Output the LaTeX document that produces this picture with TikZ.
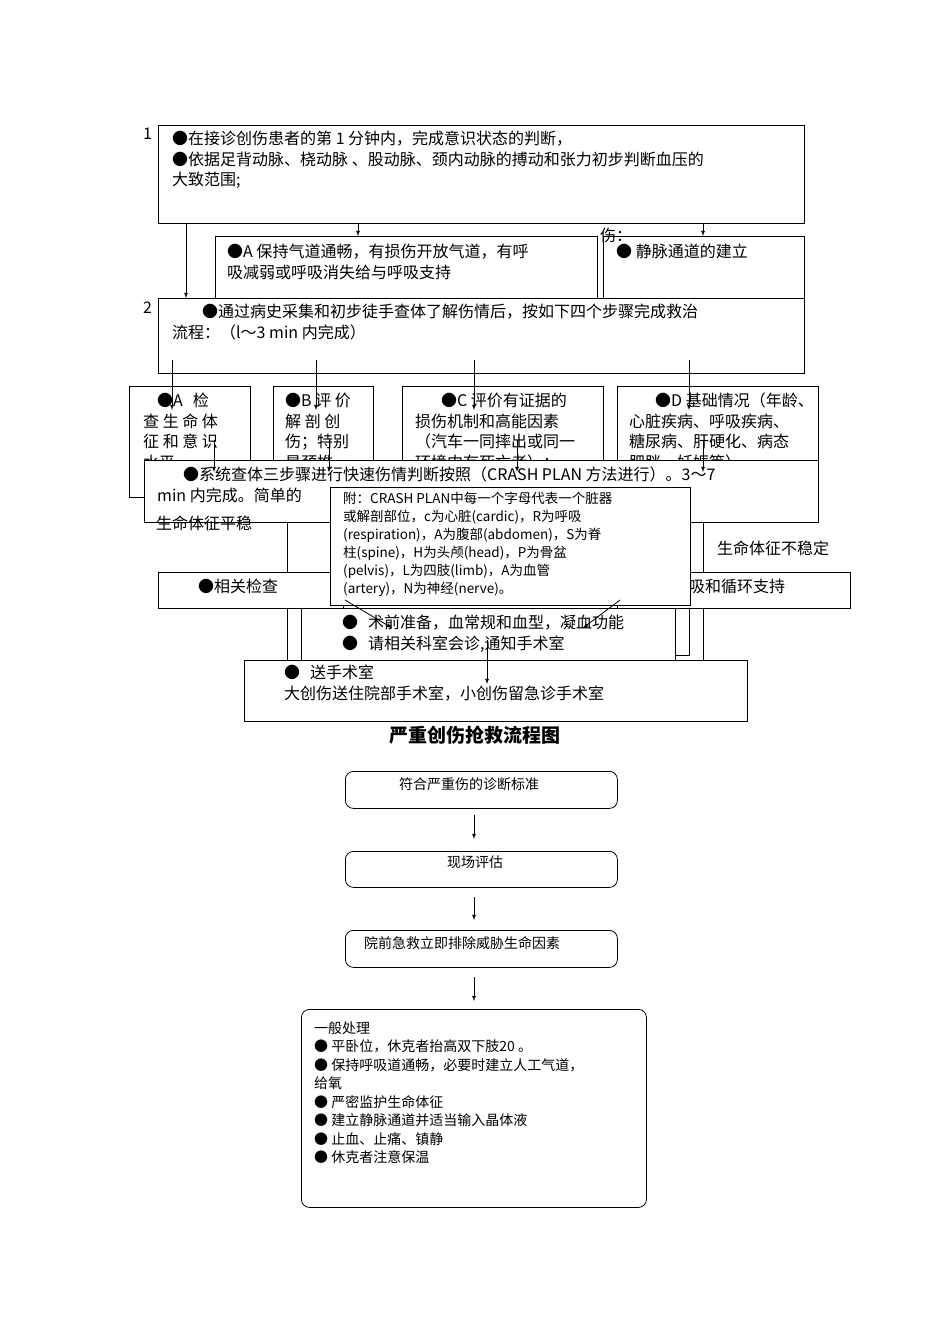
\documentclass[tikz,border=0pt]{standalone}
\usepackage{fontspec}
\setmainfont{Noto Sans CJK SC}
\newfontfamily\monocjk{Noto Sans CJK SC}
\usetikzlibrary{arrows}
\tikzset{
  box/.style={draw,thick,fill=white,anchor=north west,inner sep=0pt},
  rbox/.style={box,rounded corners=8pt},
  txt/.style={anchor=north west,inner sep=0pt,align=left,font=\fontsize{16}{20.5}\selectfont},
  small/.style={txt,font=\fontsize{14}{18.5}\selectfont},
  arr/.style={->,>=latex,thick},
}
\newcommand\bx[6][box]{\node[#1,minimum width=#5pt,minimum height=#6pt] (#2) at (#3,#4) {};}
\begin{document}
\begin{tikzpicture}[x=1pt,y=-1pt]
\useasboundingbox (0,0) rectangle (950,1344);
% step 1
\bx{one}{158}{125}{646}{98}
\node[txt] (n1) at (143,128) {1};
\node[txt] (t1) at (172,131) {●在接诊创伤患者的第 1 分钟内，完成意识状态的判断，\\●依据足背动脉、桡动脉 、股动脉、颈内动脉的搏动和张力初步判断血压的\\大致范围;};
\bx{air}{215}{236}{382}{62}
\node[txt] (tair) at (227,244) {●A 保持气道通畅，有损伤开放气道，有呼\\吸减弱或呼吸消失给与呼吸支持};
\bx{iv}{603}{236}{201}{62}
\node[txt] (tiv) at (600,228) {伤：};
\node[txt] (tiv2) at (616,244) {● 静脉通道的建立};
\coordinate (o1) at (186,223); \coordinate (o2) at (186,298);
\coordinate (o3) at (358,223); \coordinate (o4) at (358,236);
\coordinate (o5) at (703,223); \coordinate (o6) at (703,236);
\draw[arr] (o1) -- (o2);
\draw[arr] (o3) -- (o4);
\draw[arr] (o5) -- (o6);
% step 2
\bx{two}{158}{298}{646}{75}
\node[txt] (n2) at (143,302) {2};
\node[txt] (t2) at (172,304) {\hspace{30pt}●通过病史采集和初步徒手查体了解伤情后，按如下四个步骤完成救治\\流程：（l～3 min 内完成）};
% four steps
\bx{sa}{129}{386}{121}{111}
\node[txt] (tsa) at (143,393) {\hspace{14pt}●A\hspace{10pt}检\\查 生 命 体\\征 和 意 识\\水平};
\bx{sb}{273}{386}{100}{90}
\node[txt] (tsb) at (285,393) {●B 评 价\\解 剖 创\\伤；特别\\是颈椎};
\bx{sc}{402}{386}{201}{90}
\node[txt] (tsc) at (415,393) {\hspace{26pt}●C 评价有证据的\\损伤机制和高能因素\\（汽车一同摔出或同一\\环境内有死亡者）；};
\bx{sd}{617}{386}{201}{90}
\node[txt] (tsd) at (629,393) {\hspace{26pt}●D 基础情况（年龄、\\心脏疾病、呼吸疾病、\\糖尿病、肝硬化、病态\\肥胖、妊娠等）。};
% step 3
\bx{three}{144}{460}{674}{62}
\node[txt] (t3) at (157,467) {\hspace{26pt}●系统查体三步骤进行快速伤情判断按照（CRASH PLAN 方法进行）。3～7\\min 内完成。简单的};
\node[txt] (stable) at (156,516) {生命体征平稳};
\node[txt] (unstable) at (717,541) {生命体征不稳定};
\foreach \x in {172,316,474,689}{
  \coordinate (a\x) at (\x,360); \coordinate (b\x) at (\x,410);
  \draw[arr] (a\x) -- (b\x);}
\foreach \x in {214,329,517,703}{
  \coordinate (c\x) at (\x,440); \coordinate (d\x) at (\x,472);
  \draw[arr] (c\x) -- (d\x);}
% vertical side lines
\coordinate (v1) at (287,522); \coordinate (v2) at (287,660);
\coordinate (v3) at (703,522); \coordinate (v4) at (703,660);
\coordinate (v5) at (689,487); \coordinate (v6) at (689,655); \coordinate (v7) at (675,655);
\draw[thick] (v1) -- (v2);
\draw[thick] (v3) -- (v4);
\draw[thick] (v5) -- (v6) -- (v7);
% checks
\bx{chk}{158}{572}{185}{36}
\node[txt] (tchk) at (198,579) {●相关检查};
\bx{sup}{617}{572}{233}{36}
\node[txt] (tsup) at (657,579) {●呼吸和循环支持};
\bx{pre}{301}{608}{374}{52}
\node[txt] (tpre) at (342,615) {●\hspace{10pt}术前准备，血常规和血型，凝血功能\\●\hspace{10pt}请相关科室会诊,通知手术室};
% note
\bx{note}{330}{487}{360}{118}
\node[small,font=\monocjk\fontsize{13.5}{18}\selectfont] (tnote) at (343,492) {附：CRASH PLAN中每一个字母代表一个脏器\\或解剖部位，c为心脏(cardic)，R为呼吸\\(respiration)，A为腹部(abdomen)，S为脊\\柱(spine)，H为头颅(head)，P为骨盆\\(pelvis)，L为四肢(limb)，A为血管\\(artery)，N为神经(nerve)。};
% surgery
\bx{ops}{244}{660}{503}{61}
\node[txt] (tops) at (284,665) {●\hspace{10pt}送手术室\\大创伤送住院部手术室，小创伤留急诊手术室};
\coordinate (e1) at (345,600); \coordinate (e2) at (392,628);
\coordinate (e3) at (620,600); \coordinate (e4) at (583,628);
\coordinate (e5) at (487,640); \coordinate (e6) at (487,684);
\draw[arr] (e1) -- (e2);
\draw[arr] (e3) -- (e4);
\draw[arr] (e5) -- (e6);
% title
\node[font=\fontsize{19}{22}\selectfont\bfseries] (title) at (475,735) {严重创伤抢救流程图};
% pre-hospital flow
\bx[rbox]{f1}{345}{771}{272}{37}
\node[small] (tf1) at (399,777) {符合严重伤的诊断标准};
\bx[rbox]{f2}{345}{851}{272}{36}
\node[small] (tf2) at (447,856) {现场评估};
\bx[rbox]{f3}{345}{930}{272}{37}
\node[small] (tf3) at (364,936) {院前急救立即排除威胁生命因素};
\bx[rbox]{f4}{301}{1009}{345}{198}
\node[small] (tf4) at (314,1021) {一般处理\\● 平卧位，休克者抬高双下肢20 。\\● 保持呼吸道通畅，必要时建立人工气道，\\给氧\\● 严密监护生命体征\\● 建立静脉通道并适当输入晶体液\\● 止血、止痛、镇静\\● 休克者注意保温};
\foreach \i/\ya/\yb in {1/815/839,2/897/920,3/977/1001}{
  \coordinate (g\i) at (474,\ya); \coordinate (h\i) at (474,\yb);
  \draw[arr] (g\i) -- (h\i);}
\end{tikzpicture}
\end{document}
